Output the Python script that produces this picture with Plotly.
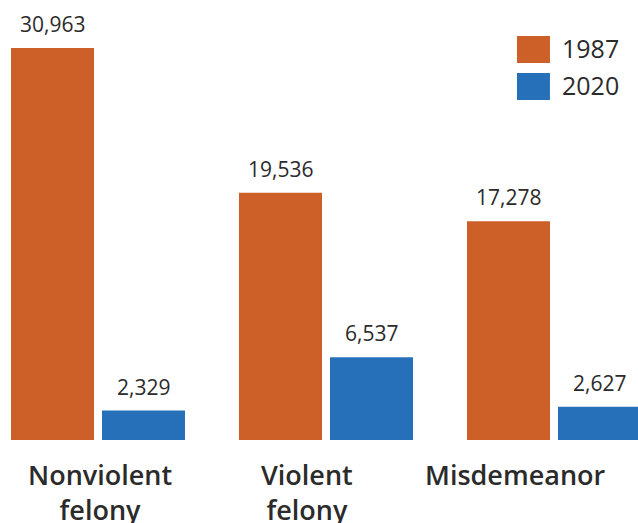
import plotly.graph_objects as go

# Offense categories and counts for the two years
categories = ["Nonviolent felony", "Violent felony", "Misdemeanor"]
category_labels = ["Nonviolent<br>felony", "Violent<br>felony", "Misdemeanor"]
years = ["1987", "2020"]
counts_1987 = [30963, 19536, 17278]
counts_2020 = [2329, 6537, 2627]

colors = {"1987": "#CD5F28", "2020": "#2670BA"}
text_color = "#2b2b2b"
font_family = "Open Sans, sans-serif"

fig = go.Figure()
for year, vals in zip(years, [counts_1987, counts_2020]):
    fig.add_trace(go.Bar(
        x=categories, y=vals, name=year,
        marker=dict(color=colors[year], line=dict(width=0)),
        showlegend=False, hoverinfo="skip",
    ))

# value labels above each bar
slot_offset = 45.5
for i, (year, vals) in enumerate(zip(years, [counts_1987, counts_2020])):
    shift = -slot_offset if i == 0 else slot_offset
    for cat, v in zip(categories, vals):
        fig.add_annotation(
            x=cat, y=v, text=f"{v:,}", showarrow=False,
            xshift=shift, yshift=8, yanchor="bottom",
            font=dict(family=font_family, size=21, color=text_color),
        )

# category labels under each group
label_shifts = [2, -19, -39]
for cat, lab, dx in zip(categories, category_labels, label_shifts):
    fig.add_annotation(
        x=cat, y=0, yref="paper", text=lab, showarrow=False,
        xshift=dx, yshift=-14, yanchor="top", align="center",
        font=dict(family=font_family, size=27, color=text_color, weight=600),
    )

# legend drawn as swatches with labels
legend_rows = [(0.918, 0.857, 0.891), (0.834, 0.773, 0.807)]
for year, (y0, y1, yt) in zip(years, legend_rows):
    fig.add_shape(type="rect", xref="paper", yref="paper",
                  x0=0.8103, x1=0.862, y0=y1, y1=y0,
                  fillcolor=colors[year], line=dict(width=0))
    fig.add_annotation(xref="paper", yref="paper", x=0.878, y=yt,
                       text=year, showarrow=False, xanchor="left", yanchor="middle",
                       font=dict(family=font_family, size=25, color=text_color))

fig.update_layout(
    width=638, height=523,
    margin=dict(l=0, r=0, t=0, b=83, autoexpand=False),
    paper_bgcolor="white", plot_bgcolor="white",
    barmode="group", bargap=0.2018, bargroupgap=0.0879,
    font=dict(family=font_family, color=text_color),
    xaxis=dict(
        range=[-0.4298, 2.3684], showgrid=False, zeroline=False, showline=False,
        ticks="", showticklabels=False, automargin=False,
    ),
    yaxis=dict(range=[0, 34755], visible=False, automargin=False),
)

fig.write_html("out.html")
